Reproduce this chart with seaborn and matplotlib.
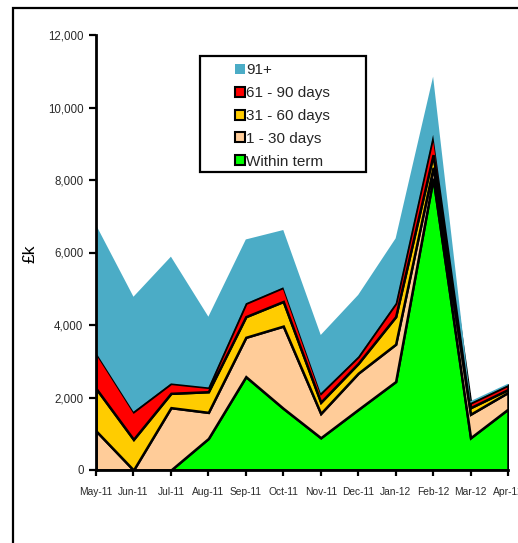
import matplotlib
matplotlib.use("Agg")
import matplotlib.pyplot as plt
from matplotlib.lines import Line2D
from matplotlib.patches import Rectangle
import numpy as np
import seaborn as sns

# Monthly debtor balances (£k) by age band
months = ["May-11", "Jun-11", "Jul-11", "Aug-11", "Sep-11", "Oct-11",
          "Nov-11", "Dec-11", "Jan-12", "Feb-12", "Mar-12", "Apr-12"]
within_term = [0, 0, 0, 870, 2575, 1700, 890, 1670, 2440, 8050, 890, 1680]
days_1_30 = [1080, 0, 1720, 720, 1085, 2270, 670, 1000, 1030, 300, 650, 460]
days_31_60 = [1170, 846, 395, 570, 570, 680, 310, 270, 760, 350, 180, 80]
days_61_90 = [990, 764, 275, 120, 370, 390, 250, 190, 370, 550, 130, 120]
days_91_plus = [3520, 3170, 3495, 1950, 1760, 1580, 1605, 1700, 1790, 1600, 50, 40]

series_labels = ["Within term", "1 - 30 days", "31 - 60 days", "61 - 90 days", "91+"]
series_colors = ["#00FF00", "#FFCC99", "#FFCC00", "#FF0000", "#4BACC6"]

sns.set_style("white")
plt.rcParams["font.family"] = ["Liberation Sans", "DejaVu Sans"]

W, H = 518, 543
fig = plt.figure(figsize=(W / 100, H / 100), dpi=100)
ax = fig.add_axes([96 / W, 1 - 470 / H, 412 / W, 435 / H])

x = np.arange(len(months))
layers = [within_term, days_1_30, days_31_60, days_61_90, days_91_plus]
polys = ax.stackplot(x, *layers, colors=series_colors, labels=series_labels)
for i, p in enumerate(polys):
    if i < 4:
        p.set_edgecolor("black")
        p.set_linewidth(1.8)
        p.set_joinstyle("miter")
    else:
        p.set_edgecolor("none")
        p.set_linewidth(0)

ax.set_xlim(0, len(months) - 1)
ax.set_ylim(0, 12000)
ax.set_yticks(np.arange(0, 12001, 2000))
ax.set_yticklabels([f"{v:,}" for v in range(0, 12001, 2000)])
ax.set_xticks(x)
ax.set_xticklabels(months)

for side in ["top", "right"]:
    ax.spines[side].set_visible(False)
for side in ["left", "bottom"]:
    ax.spines[side].set_color("black")
    ax.spines[side].set_linewidth(2)
    ax.spines[side].set_zorder(5)

ax.tick_params(axis="y", direction="out", length=5, width=1.6, color="black",
               labelsize=8.3, labelcolor="#2a2a2a", pad=4, left=True)
ax.tick_params(axis="x", direction="out", length=4, width=1.6, color="black",
               labelsize=7.4, labelcolor="#2a2a2a", pad=8, bottom=True)
ax.grid(False)

fig.text(30 / W, 1 - 254 / H, "£k", rotation=90, fontsize=12.5,
         ha="center", va="center", color="black")

# Legend: listed from the top band down
handles = []
for lab, col in zip(series_labels[::-1], series_colors[::-1]):
    edge = "none" if lab == "91+" else "black"
    handles.append(Line2D([], [], linestyle="none", marker="s", markersize=7,
                          markerfacecolor=col, markeredgecolor=edge,
                          markeredgewidth=1.5, label=lab))
leg = fig.legend(handles=handles, loc="upper left",
                 bbox_to_anchor=(224 / W, 1 - 52.5 / H), frameon=False,
                 fontsize=11, handlelength=0.7, handletextpad=0.05,
                 labelspacing=0.58, borderpad=0.2)
fig.add_artist(Rectangle((200 / W, 1 - 172 / H), 166 / W, 116 / H,
                         transform=fig.transFigure, fill=False,
                         edgecolor="black", linewidth=1.6))

# Outer chart frame
fig.add_artist(Rectangle((12.5 / W, -0.1), 1.2, 1.1 - 8.5 / H,
                         transform=fig.transFigure, fill=False,
                         edgecolor="black", linewidth=1.6))

fig.savefig("out.png", dpi=100)
